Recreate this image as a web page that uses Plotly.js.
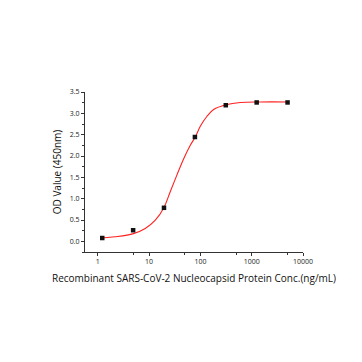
<!DOCTYPE html>
<html><head><meta charset="utf-8">
<script src="https://cdn.plot.ly/plotly-3.0.1.min.js"></script>
<style>html,body{margin:0;padding:0;background:#fff}#chart{width:362px;height:362px}</style>
</head><body><div id="chart"></div>
<script>
// Measured points
const concentrations = [1.22, 4.88, 19.5, 78.1, 312.5, 1250, 5000];
const odValues = [0.078, 0.26, 0.786, 2.445, 3.19, 3.255, 3.255];
// Fitted curve
const curveConc = [1.22, 2.18, 4.95, 8.4, 13.2, 19.5, 25.8, 34.9, 47.0, 63.5, 79.4, 99.5, 134.6, 181, 316, 601, 1479, 5000];
const curveOD = [0.078, 0.106, 0.18, 0.30, 0.495, 0.795, 1.163, 1.557, 1.93, 2.25, 2.446, 2.696, 2.932, 3.09, 3.2, 3.255, 3.267, 3.267];
const xTickVals = [1, 10, 100, 1000, 10000];
const xTickText = ['1', '10', '100', '1000', '10000'];
const xMinorVals = [5, 50, 500, 5000];

const tickFont = {family: 'Open Sans, Arial, sans-serif', size: 7, color: '#222'};
const titleFont = {family: 'Open Sans, Arial, sans-serif', size: 10, color: '#111'};

const traces = [
  {x: curveConc, y: curveOD, mode: 'lines', type: 'scatter', line: {color: '#ff2020', width: 1.1, shape: 'spline', smoothing: 1}, hoverinfo: 'skip'},
  {x: concentrations, y: odValues, mode: 'markers', type: 'scatter', marker: {symbol: 'square', size: 4.5, color: '#111'}}
];
const layout = {
  width: 362, height: 362,
  margin: {l: 85, r: 59, t: 92, b: 110},
  paper_bgcolor: '#fff', plot_bgcolor: '#fff',
  showlegend: false,
  xaxis: {
    type: 'log', range: [-0.25, 4.0],
    tickmode: 'array', tickvals: xTickVals, ticktext: xTickText,
    ticks: 'outside', ticklen: 3, tickwidth: 1, tickcolor: '#333',
    minor: {tickmode: 'array', tickvals: xMinorVals, ticks: 'outside', ticklen: 2, tickcolor: '#333', showgrid: false},
    showline: true, linecolor: '#333', linewidth: 1,
    showgrid: false, zeroline: false,
    tickfont: tickFont,
    title: {text: 'Recombinant SARS-CoV-2 Nucleocapsid Protein Conc.(ng/mL)', font: titleFont, standoff: 9}
  },
  yaxis: {
    range: [-0.25, 3.5],
    tickmode: 'array', tickvals: [0, 0.5, 1, 1.5, 2, 2.5, 3, 3.5],
    ticktext: ['0.0', '0.5', '1.0', '1.5', '2.0', '2.5', '3.0', '3.5'],
    ticks: 'outside', ticklen: 3, tickwidth: 1, tickcolor: '#333',
    minor: {dtick: 0.25, tick0: 0, ticks: 'outside', ticklen: 2, tickcolor: '#333', showgrid: false},
    showline: true, linecolor: '#333', linewidth: 1,
    showgrid: false, zeroline: false,
    tickfont: tickFont,
    title: {text: 'OD Value (450nm)', font: titleFont, standoff: 6}
  }
};
Plotly.newPlot('chart', traces, layout, {staticPlot: true, displayModeBar: false});
</script>
</body></html>
